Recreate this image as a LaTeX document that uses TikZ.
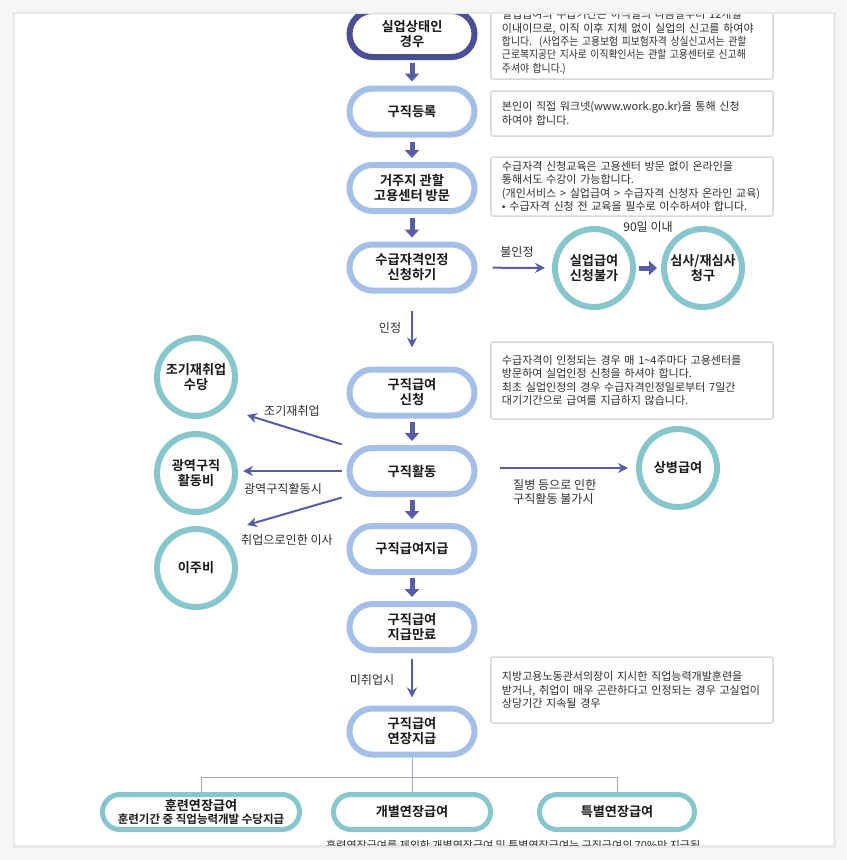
\documentclass[tikz,border=0pt]{standalone}
\usepackage{fontspec}
\setmainfont{Noto Sans CJK KR}[BoldFont={Noto Sans CJK KR Bold}]
\newfontfamily\narrowkr{Noto Sans CJK KR}[FakeStretch=0.89]
\usetikzlibrary{arrows.meta}

\definecolor{navyline}{HTML}{4A4E94}
\definecolor{stepblue}{HTML}{A6BFE9}
\definecolor{tealring}{HTML}{88C6CD}
\definecolor{arrowblue}{HTML}{585DA8}
\definecolor{boxgray}{HTML}{D8D8D8}
\definecolor{treeblue}{HTML}{A3A7D4}
\definecolor{inktext}{HTML}{1A1A1A}
\definecolor{notetext}{HTML}{2E2E2E}
\definecolor{pagebg}{HTML}{F6F6F6}
\definecolor{shadowgray}{HTML}{E9E9E9}

\begin{document}
\begin{tikzpicture}[
  x=0.03cm, y=-0.03cm,
  stage/.style={rectangle, draw=stepblue, line width=0.18cm, rounded corners=0.69cm, minimum width=3.75cm, minimum height=1.38cm, align=center, text=inktext, font=\fontsize{11.3}{12.8}\selectfont\bfseries},
  ring/.style={circle, draw=tealring, line width=0.18cm, minimum size=2.34cm, inner sep=0pt, align=center, text=inktext, font=\fontsize{11.2}{12.8}\selectfont\bfseries},
  branch/.style={rectangle, draw=tealring, line width=0.15cm, rounded corners=0.525cm, minimum height=1.05cm, align=center, text=inktext, font=\fontsize{11.2}{12.4}\selectfont\bfseries},
  note/.style={rectangle, draw=boxgray, line width=0.045cm, rounded corners=0.06cm, text width=7.8cm, inner xsep=0.33cm, align=left, text=notetext, font=\fontsize{9.4}{11.35}\selectfont},
  tag/.style={inner sep=0pt, text=notetext, font=\fontsize{10.3}{12}\selectfont},
  blockarrow/.style={-{Triangle[length=0.24cm,width=0.42cm]}, line width=0.15cm, draw=arrowblue},
  thinarrow/.style={-{Stealth[length=0.3cm,width=0.3cm,inset=0.1cm]}, line width=0.06cm, draw=arrowblue},
  treeline/.style={draw=treeblue, line width=0.03cm}
]
\useasboundingbox (0,0) rectangle (847,860);

% Page and card
\fill[pagebg] (0,0) rectangle (847,860);
\fill[shadowgray] (13,12) rectangle (836,848);
\fill[white] (15,14) rectangle (833,845);

\begin{scope}
\clip (15,14) rectangle (833,845);

% Main flow
\node[stage, draw=navyline] (unemp) at (412,34) {실업상태인\\경우};
\node[stage] (register) at (412,111.5) {구직등록};
\node[stage] (visit) at (412,188) {거주지 관할\\고용센터 방문};
\node[stage] (qualify) at (412,267.5) {수급자격인정\\신청하기};
\node[stage] (apply) at (412,392.5) {구직급여\\신청};
\node[stage] (search) at (412,471) {구직활동};
\node[stage] (pay) at (412,549) {구직급여지급};
\node[stage] (payend) at (412,627) {구직급여\\지급만료};
\node[stage] (extend) at (412,731.5) {구직급여\\연장지급};

\draw[blockarrow, shorten <=0.09cm, shorten >=0.12cm] (unemp) -- (register);
\draw[blockarrow, shorten <=0.12cm, shorten >=0.12cm] (register) -- (visit);
\draw[blockarrow, shorten <=0.12cm, shorten >=0.12cm] (visit) -- (qualify);
\draw[thinarrow, shorten <=0.51cm, shorten >=0.57cm] (qualify) -- (apply);
\draw[blockarrow, shorten <=0.09cm, shorten >=0.12cm] (apply) -- (search);
\draw[blockarrow, shorten <=0.09cm, shorten >=0.12cm] (search) -- (pay);
\draw[blockarrow, shorten <=0.09cm, shorten >=0.12cm] (pay) -- (payend);
\draw[thinarrow, shorten <=0.18cm, shorten >=0.24cm] (payend) -- (extend);

\node[tag] (okTag) at (390,328) {인정};
\node[tag] (noworkTag) at (372,680) {미취업시};

% Notes
\node[note, minimum height=2.22cm] (lossNote) at (632,42) {실업급여의 수급기간은 이직일의 다음날부터 12개월\\이내이므로, 이직 이후 지체 없이 실업의 신고를 하여야\\{\narrowkr 합니다.\ \ (사업주는 고용보험 피보험자격 상실신고서는 관할}\\{\narrowkr 근로복지공단 지사로 이직확인서는 관할 고용센터로 신고해}\\{\narrowkr 주셔야 합니다.)}};
\node[note, minimum height=1.35cm] (regNote) at (632,113.5) {본인이 직접 워크넷(www.work.go.kr)을 통해 신청\\하여야 합니다.};
\node[note, minimum height=1.77cm] (eduNote) at (632,186.5) {수급자격 신청교육은 고용센터 방문 없이 온라인을\\통해서도 수강이 가능합니다.\\(개인서비스 > 실업급여 > 수급자격 신청자 온라인 교육)\\• 수급자격 신청 전 교육을 필수로 이수하셔야 합니다.};
\node[note, minimum height=2.31cm] (visitNote) at (632,380.5) {수급자격이 인정되는 경우 매 1\textasciitilde4주마다 고용센터를\\방문하여 실업인정 신청을 하셔야 합니다.\\최초 실업인정의 경우 수급자격인정일로부터 7일간\\대기기간으로 급여를 지급하지 않습니다.};
\node[note, minimum height=1.98cm] (trainNote) at (632,690) {지방고용노동관서의장이 지시한 직업능력개발훈련을\\받거나, 취업이 매우 곤란하다고 인정되는 경우 고실업이\\상당기간 지속될 경우};

% Rejected claim
\node[ring] (denied) at (594,268) {실업급여\\신청불가};
\node[ring] (appeal) at (703,268) {심사/재심사\\청구};
\draw[thinarrow, shorten <=0.45cm, shorten >=0.21cm] (qualify) -- (denied);
\draw[blockarrow, shorten <=0.09cm, shorten >=0.12cm] (denied) -- (appeal);
\node[tag] (rejectTag) at (517,252) {불인정};
\node[tag] (daysTag) at (648,227) {90일 이내};

% Side benefits
\node[ring] (early) at (196,377) {조기재취업\\수당};
\node[ring] (wide) at (196,473) {광역구직\\활동비};
\node[ring] (move) at (196,568) {이주비};
\node[ring] (sick) at (678,468) {상병급여};

\coordinate (earlytip) at (247,415);
\coordinate (movetip) at (247,525);
\draw[thinarrow, shorten <=0.15cm] (search.159) -- (earlytip);
\draw[thinarrow, shorten <=0.15cm, shorten >=0.15cm] (search.west) -- (search.west -| wide.east);
\draw[thinarrow, shorten <=0.15cm] (search.201) -- (movetip);
\draw[thinarrow, shorten <=0.66cm, shorten >=0.24cm] (search.east |- sick) -- (sick);

\node[tag] (earlyTag) at (292,411) {조기재취업};
\node[tag] (wideTag) at (283,489) {광역구직활동시};
\node[tag] (moveTag) at (287,540) {취업으로인한 이사};
\node[tag, align=left, anchor=west] (sickTag) at (513,492) {질병 등으로 인한\\구직활동 불가시};

% Extended benefits
\node[branch, minimum width=5.91cm] (train) at (201,812) {훈련연장급여\\[-1pt]{\fontsize{9.8}{11}\selectfont 훈련기간 중 직업능력개발 수당지급}};
\node[branch, minimum width=4.71cm] (indiv) at (412,812) {개별연장급여};
\node[branch, minimum width=4.65cm] (special) at (617,812) {특별연장급여};

\coordinate (fork) at (412,777);
\draw[treeline] (extend) -- (fork);
\draw[treeline] (train.north) |- (fork) -| (special.north);
\draw[treeline] (fork) -- (indiv.north);

\node[tag, anchor=west, font=\fontsize{9.4}{11}\selectfont] (cutNote) at (326,845) {훈련연장급여를 제외한 개별연장급여 및 특별연장급여는 구직급여의 70\%만 지급됨};
\end{scope}

\end{tikzpicture}
\end{document}
